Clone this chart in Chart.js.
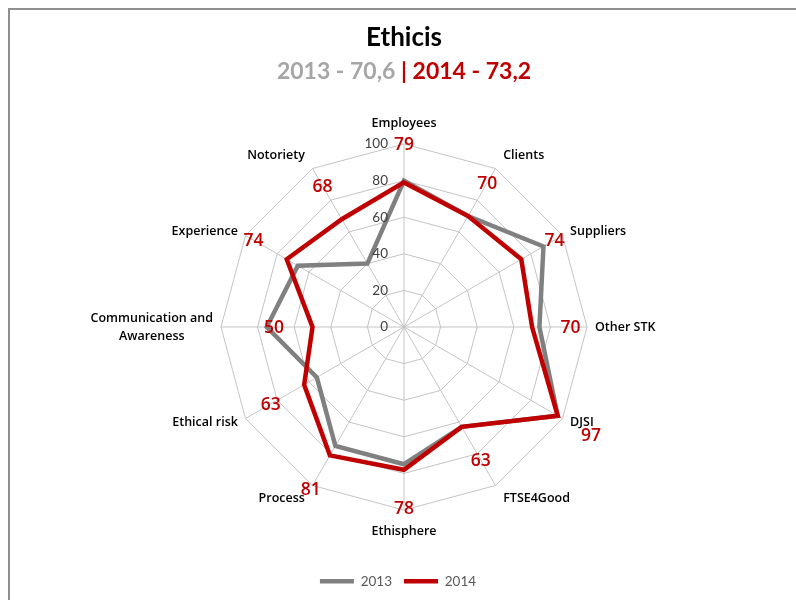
<!DOCTYPE html>
<html>
<head>
<meta charset="utf-8">
<script src="https://cdn.jsdelivr.net/npm/chart.js@4.4.1/dist/chart.umd.min.js"></script>
<style>
    body { margin: 0; background: #fff; }
</style>
</head>
<body>
<canvas id="chart" width="796" height="600"></canvas>
<script>
let categories = ['Employees', 'Clients', 'Suppliers', 'Other STK', 'DJSI', 'FTSE4Good', 'Ethisphere',
    'Process', 'Ethical risk', ['Communication and', 'Awareness'], 'Experience', 'Notoriety'];
let values2013 = [80, 70, 88, 74, 97, 63, 75, 75, 55, 75, 67, 40];
let values2014 = [79, 70, 74, 70, 97, 63, 78, 81, 63, 50, 74, 68];
let tickValues = [0, 20, 40, 60, 80, 100];
let titleText = 'Ethicis';
let subtitleGray = '2013 - 70,6 ';
let subtitleRed = '| 2014 - 73,2';

const FONT = 'Lato, "Noto Sans", sans-serif';
const LABEL_FONT = '"Open Sans", Lato, sans-serif';
const GRAY = '#808080';
const RED = '#c00000';

// keep the radar where excel put it
const placeScale = {
    id: 'placeScale',
    afterLayout: (chart) => {
        const s = chart.scales.r;
        s.xCenter = 404;
        s.yCenter = 327;
        s.drawingArea = 183;
    }
};

const decorations = {
    id: 'decorations',
    afterDraw: (chart) => {
        const ctx = chart.ctx;
        const s = chart.scales.r;
        ctx.save();

        // frame
        ctx.strokeStyle = '#8f8f8f';
        ctx.lineWidth = 2;
        ctx.beginPath();
        ctx.moveTo(9, 600);
        ctx.lineTo(9, 9);
        ctx.lineTo(796, 9);
        ctx.stroke();

        // title
        ctx.textBaseline = 'middle';
        ctx.textAlign = 'center';
        ctx.fillStyle = '#000';
        ctx.font = 'bold 26px ' + FONT;
        ctx.fillText(titleText, 404, 38);

        ctx.font = 'bold 23px ' + FONT;
        let w1 = ctx.measureText(subtitleGray).width;
        let w2 = ctx.measureText(subtitleRed).width;
        let x0 = 404 - (w1 + w2) / 2;
        ctx.textAlign = 'left';
        ctx.fillStyle = '#a6a6a6';
        ctx.fillText(subtitleGray, x0, 72);
        ctx.fillStyle = RED;
        ctx.fillText(subtitleRed, x0 + w1, 72);

        // tick labels
        ctx.font = '13.5px ' + FONT;
        ctx.fillStyle = '#404040';
        ctx.textAlign = 'right';
        tickValues.forEach(v => {
            ctx.fillText(String(v), s.xCenter - 16, s.yCenter - s.getDistanceFromCenterForValue(v));
        });

        // category labels
        ctx.font = '600 12.5px ' + LABEL_FONT;
        ctx.fillStyle = '#000';
        categories.forEach((label, i) => {
            let angle = s.getIndexAngle(i);
            let c = Math.abs(Math.cos(angle));
            let p = s.getPointPosition(i, s.drawingArea + 8 + 13 * Math.pow(c, 4));
            let sin = Math.sin(angle);
            let lines = Array.isArray(label) ? label : [label];
            let widths = lines.map(l => ctx.measureText(l).width);
            let maxW = Math.max(...widths);
            let cx;
            if (Math.abs(sin) < 0.01) cx = p.x;
            else if (sin > 0) cx = p.x + maxW / 2;
            else cx = p.x - maxW / 2;
            ctx.textAlign = 'center';
            let lh = 18;
            let y0 = p.y - (lines.length - 1) * lh / 2;
            lines.forEach((l, k) => ctx.fillText(l, cx, y0 + k * lh));
        });

        // 2014 value labels
        ctx.font = '600 17.5px ' + LABEL_FONT;
        ctx.fillStyle = RED;
        ctx.textAlign = 'center';
        values2014.forEach((v, i) => {
            let p = s.getPointPositionForValue(i, v + 21);
            ctx.fillText(String(v), p.x, p.y + 1);
        });

        ctx.restore();
    }
};

const config = {
    type: 'radar',
    data: {
        labels: categories,
        datasets: [
            {
                label: '2013',
                data: values2013,
                borderColor: GRAY,
                backgroundColor: GRAY,
                borderWidth: 4.5,
                borderCapStyle: 'round',
                fill: false,
                pointRadius: 0,
                order: 1
            },
            {
                label: '2014',
                data: values2014,
                borderColor: RED,
                backgroundColor: RED,
                borderWidth: 4.5,
                borderCapStyle: 'round',
                fill: false,
                pointRadius: 0,
                order: 0
            }
        ]
    },
    options: {
        responsive: false,
        animation: false,
        layout: { padding: { top: 100, bottom: 2 } },
        plugins: {
            title: { display: false },
            tooltip: { enabled: false },
            legend: {
                position: 'bottom',
                labels: {
                    usePointStyle: true,
                    pointStyle: 'line',
                    pointStyleWidth: 34,
                    color: '#595959',
                    font: { family: FONT, size: 13.5 },
                    padding: 12,
                    sort: (a, b) => a.datasetIndex - b.datasetIndex
                }
            }
        },
        scales: {
            r: {
                min: 0,
                max: 100,
                ticks: { display: false, stepSize: 20 },
                pointLabels: { display: false },
                grid: { color: '#c4c4c4', lineWidth: 1 },
                angleLines: { color: '#c4c4c4', lineWidth: 1 }
            }
        }
    },
    plugins: [placeScale, decorations]
};

new Chart(document.getElementById('chart'), config);
</script>
</body>
</html>
